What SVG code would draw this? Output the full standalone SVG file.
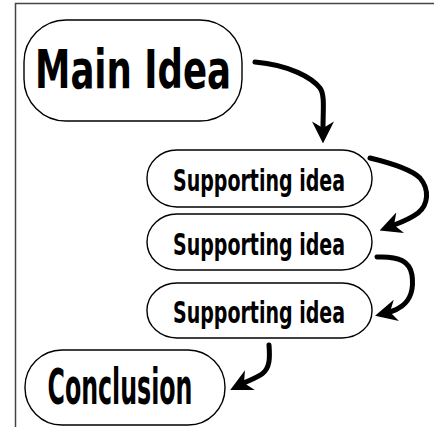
<svg xmlns="http://www.w3.org/2000/svg" width="434" height="427" viewBox="0 0 434 427">
<style>
.box{fill:#fff;stroke:#000;stroke-width:1.4}
.lbl{font-family:"DejaVu Sans Condensed","DejaVu Sans",sans-serif;font-weight:bold;fill:#000;text-anchor:middle}
.arr{fill:none;stroke:#000;stroke-width:5;stroke-linecap:round;marker-end:url(#ah)}
</style>
<defs>
<marker id="ah" viewBox="0 0 20 20" markerUnits="userSpaceOnUse" markerWidth="22" markerHeight="22" refX="6" refY="10" orient="auto">
<path d="M0,0 L20,10 L0,20 L6,10 z" fill="#000"/>
</marker>
</defs>
<rect width="434" height="427" fill="#fff"/>
<rect x="15.5" y="3.5" width="430" height="430" fill="none" stroke="#444" stroke-width="1.5"/>
<g id="connectors">
<path class="arr" d="M255,62 C290,65 312,78 320,88 C325,95 323,110 323,128"/>
<path class="arr" d="M370,158 C395,164 412,170 420,178 C430,190 428,205 418,213 C410,219 402,222 394,225"/>
<path class="arr" d="M377,257 C400,256 410,262 412,275 C414,290 410,300 402,306 C398,309 394,311 390,312"/>
<path class="arr" d="M269,345 C270,358 270,368 262,374 C256,378 250,380 244,383"/>
</g>
<g id="main">
<rect class="box" x="24" y="20" width="218" height="101" rx="42" ry="42" stroke-width="1.8"/>
<text class="lbl" x="133" y="88" font-size="54" textLength="196" lengthAdjust="spacingAndGlyphs">Main Idea</text>
</g>
<g id="support1">
<rect class="box" x="147" y="150" width="225" height="57" rx="30" ry="28"/>
<text class="lbl" x="259" y="191" font-size="31" textLength="172" lengthAdjust="spacingAndGlyphs">Supporting idea</text>
</g>
<g id="support2">
<rect class="box" x="147" y="214" width="225" height="56" rx="30" ry="28"/>
<text class="lbl" x="259" y="255" font-size="31" textLength="172" lengthAdjust="spacingAndGlyphs">Supporting idea</text>
</g>
<g id="support3">
<rect class="box" x="147" y="283" width="225" height="55" rx="30" ry="27"/>
<text class="lbl" x="259" y="323" font-size="31" textLength="172" lengthAdjust="spacingAndGlyphs">Supporting idea</text>
</g>
<g id="conclusion">
<rect class="box" x="25" y="350" width="200" height="75" rx="37" ry="37"/>
<text class="lbl" x="120" y="404" font-size="49" textLength="145" lengthAdjust="spacingAndGlyphs">Conclusion</text>
</g>
</svg>
